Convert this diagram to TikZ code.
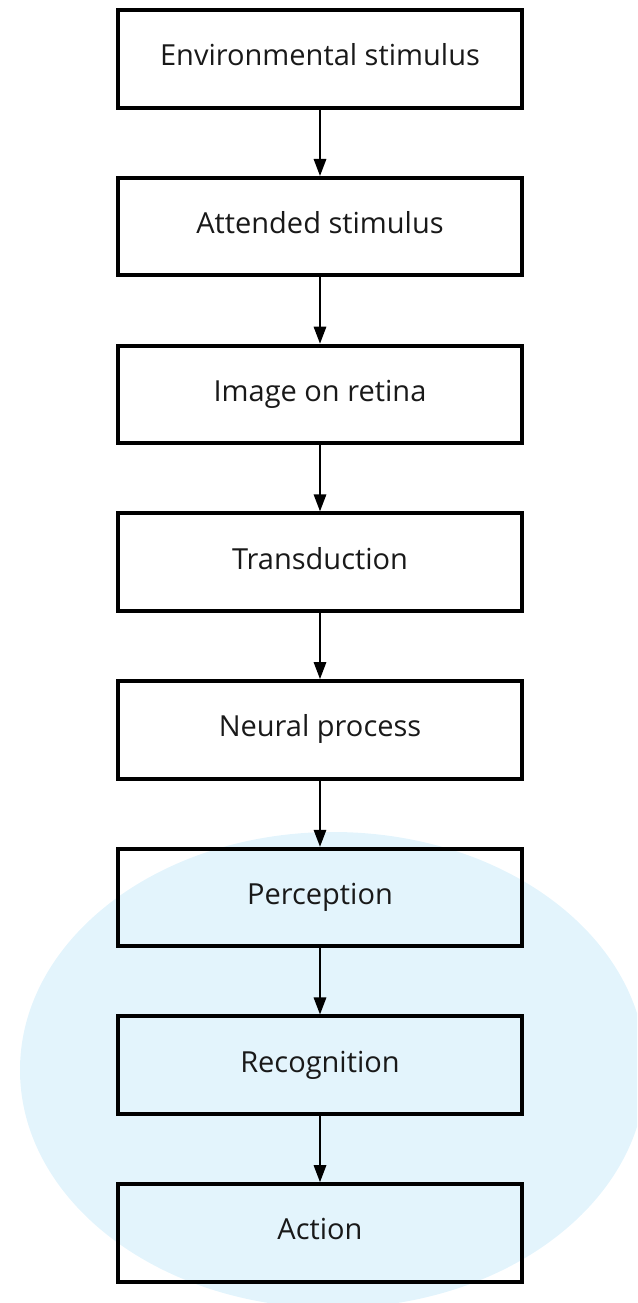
\documentclass[tikz,border=0pt]{standalone}
\usepackage{fontspec}
\setmainfont{Open Sans}
\usetikzlibrary{arrows.meta}
\definecolor{zoneblue}{RGB}{227,244,252}
\tikzset{
  stepbox/.style={draw=black, line width=4pt, minimum width=404pt, minimum height=97.5pt, inner sep=0pt, text height=22pt, text depth=8pt, font=\fontsize{29pt}{34pt}\selectfont, text=black!90},
  flow/.style={line width=1.6pt, -{Triangle[length=17pt,width=12.5pt]}}
}
\begin{document}
\begin{tikzpicture}[x=1pt,y=-1pt]
\useasboundingbox (0,0) rectangle (637,1303);
\begin{scope}
\clip (0,0) rectangle (637,1303);
\fill[zoneblue] (333,1070) ellipse [x radius=313, y radius=238];
\end{scope}
\node[stepbox] (b1) at (320,59) {Environmental stimulus};
\node[stepbox] (b2) at (320,226.7) {Attended stimulus};
\node[stepbox] (b3) at (320,394.4) {Image on retina};
\node[stepbox] (b4) at (320,562.1) {Transduction};
\node[stepbox] (b5) at (320,729.8) {Neural process};
\node[stepbox] (b6) at (320,897.5) {Perception};
\node[stepbox] (b7) at (320,1065.2) {Recognition};
\node[stepbox] (b8) at (320,1232.9) {Action};
\foreach \a/\b in {b1/b2,b2/b3,b3/b4,b4/b5,b5/b6,b6/b7,b7/b8}
  \draw[flow] (\a.south) -- (\b.north);
\end{tikzpicture}
\end{document}
